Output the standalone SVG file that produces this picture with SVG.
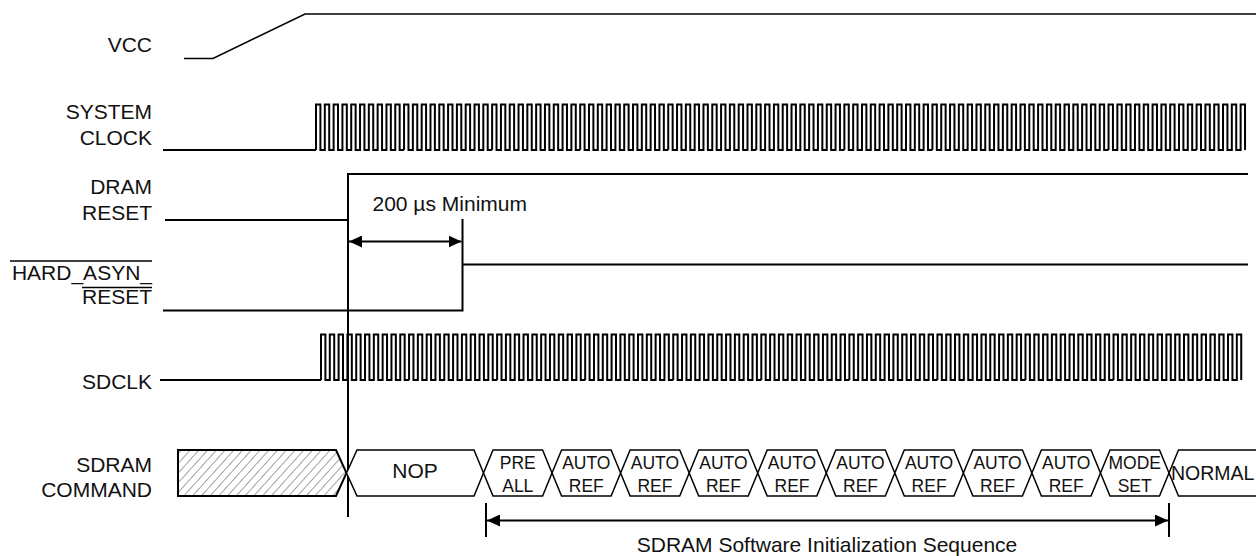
<svg xmlns="http://www.w3.org/2000/svg" xmlns:xlink="http://www.w3.org/1999/xlink" width="1256" height="556" viewBox="0 0 1256 556">
<style>
.lbl{font-family:"Liberation Sans",Arial,sans-serif;font-size:21px;fill:#111;}
.end{text-anchor:end;}
.mid{text-anchor:middle;}
.cmd{font-family:"Liberation Sans",Arial,sans-serif;font-size:17.5px;fill:#111;text-anchor:middle;}
.w{fill:none;stroke:#000;stroke-width:2;stroke-linejoin:miter;}
.thin{fill:none;stroke:#000;stroke-width:1.5;}
.bus{fill:#fff;stroke:#000;stroke-width:1.5;stroke-linejoin:miter;}
</style>
<defs>
<pattern id="hatch" width="6.5" height="6.5" patternUnits="userSpaceOnUse" patternTransform="rotate(42)">
<line x1="0" y1="0" x2="0" y2="6.5" stroke="#444" stroke-width="1"/>
</pattern>
<marker id="ah" viewBox="0 0 13 12" refX="13" refY="6" markerWidth="13" markerHeight="12" markerUnits="userSpaceOnUse" orient="auto-start-reverse">
<path d="M0,0 L13,6 L0,12 z" fill="#000"/>
</marker>
<path id="c10" class="w" d="M0,0v-45.5h4.403v45.5h4.403v-45.5h4.403v45.5h4.403v-45.5h4.403v45.5h4.403v-45.5h4.403v45.5h4.403v-45.5h4.403v45.5h4.403v-45.5h4.403v45.5h4.403v-45.5h4.403v45.5h4.403v-45.5h4.403v45.5h4.403v-45.5h4.403v45.5h4.403v-45.5h4.403v45.5h4.403"/>
</defs>

<g id="vcc">
<text class="lbl end" x="152" y="52">VCC</text>
<path class="thin" d="M184,58.5 H213 L305,14 H1256"/>
</g>

<g id="system-clock">
<text class="lbl end" x="152" y="118.5">SYSTEM</text>
<text class="lbl end" x="152" y="145">CLOCK</text>
<path class="w" d="M163,150 H316"/>
<use xlink:href="#c10" x="316" y="150"/>
<use xlink:href="#c10" x="404.06" y="150"/>
<use xlink:href="#c10" x="492.12" y="150"/>
<use xlink:href="#c10" x="580.18" y="150"/>
<use xlink:href="#c10" x="668.24" y="150"/>
<use xlink:href="#c10" x="756.3" y="150"/>
<use xlink:href="#c10" x="844.36" y="150"/>
<use xlink:href="#c10" x="932.42" y="150"/>
<use xlink:href="#c10" x="1020.48" y="150"/>
<use xlink:href="#c10" x="1108.54" y="150"/>
<path class="w" d="M1196.6,150v-45.5h4.403v45.5h4.403v-45.5h4.403v45.5h4.403v-45.5h4.403v45.5h4.403v-45.5h4.403v45.5h4.403v-45.5h4.403v45.5h4.403v-45.5h4.403v45.5"/>
</g>

<g id="dram-reset">
<text class="lbl end" x="152" y="193.5">DRAM</text>
<text class="lbl end" x="152" y="220">RESET</text>
<path class="w" d="M165,220 H348 V174 H1248"/>
<path class="w" d="M348,220 V517"/>
</g>

<g id="hard-asyn-reset">
<text class="lbl end" x="152" y="280">HARD_ASYN_</text>
<text class="lbl end" x="152" y="304">RESET</text>
<path class="thin" d="M10,261 H152 M82,287.5 H152"/>
<path class="w" d="M163,310.5 H462.5 V264.5 H1248 M462.5,264.5 V219"/>
</g>

<g id="sdclk">
<text class="lbl end" x="152" y="388.5">SDCLK</text>
<path class="w" d="M160,380 H321"/>
<use xlink:href="#c10" x="321" y="380"/>
<use xlink:href="#c10" x="409.06" y="380"/>
<use xlink:href="#c10" x="497.12" y="380"/>
<use xlink:href="#c10" x="585.18" y="380"/>
<use xlink:href="#c10" x="673.24" y="380"/>
<use xlink:href="#c10" x="761.3" y="380"/>
<use xlink:href="#c10" x="849.36" y="380"/>
<use xlink:href="#c10" x="937.42" y="380"/>
<use xlink:href="#c10" x="1025.48" y="380"/>
<use xlink:href="#c10" x="1113.54" y="380"/>
<path class="w" d="M1201.6,380v-45.5h4.403v45.5h4.403v-45.5h4.403v45.5h4.403v-45.5h4.403v45.5h4.403v-45.5h4.403v45.5h4.403v-45.5h4.403v45.5"/>
</g>

<g id="sdram-command">
<text class="lbl end" x="152" y="472">SDRAM</text>
<text class="lbl end" x="152" y="497">COMMAND</text>
<polygon points="178,450 336,450 346.5,473 336,496 178,496" fill="url(#hatch)" stroke="#000" stroke-width="2"/>
<polygon class="bus" points="346.5,473 357,450 474,450 483.5,473 474,496 357,496"/>
<text class="lbl mid" x="415" y="478">NOP</text>
<polygon class="bus" points="483.5,473 493,450 542.6,450 552,473 542.6,496 493,496"/>
<polygon class="bus" points="552,473 561.6,450 611.1,450 620.6,473 611.1,496 561.6,496"/>
<polygon class="bus" points="620.6,473 630.1,450 679.7,450 689.2,473 679.7,496 630.1,496"/>
<polygon class="bus" points="689.2,473 698.7,450 748.2,450 757.7,473 748.2,496 698.7,496"/>
<polygon class="bus" points="757.7,473 767.2,450 816.8,450 826.3,473 816.8,496 767.2,496"/>
<polygon class="bus" points="826.3,473 835.8,450 885.3,450 894.8,473 885.3,496 835.8,496"/>
<polygon class="bus" points="894.8,473 904.3,450 953.9,450 963.4,473 953.9,496 904.3,496"/>
<polygon class="bus" points="963.4,473 972.9,450 1022.4,450 1031.9,473 1022.4,496 972.9,496"/>
<polygon class="bus" points="1031.9,473 1041.4,450 1091,450 1100.5,473 1091,496 1041.4,496"/>
<polygon class="bus" points="1100.5,473 1110,450 1159.5,450 1169,473 1159.5,496 1110,496"/>
<polyline class="bus" fill="none" points="1256,450 1178.5,450 1169,473 1178.5,496 1256,496"/>
<text class="cmd" x="517.8" y="469">PRE</text><text class="cmd" x="517.8" y="491.5">ALL</text>
<text class="cmd" x="586.3" y="469">AUTO</text><text class="cmd" x="586.3" y="491.5">REF</text>
<text class="cmd" x="654.9" y="469">AUTO</text><text class="cmd" x="654.9" y="491.5">REF</text>
<text class="cmd" x="723.4" y="469">AUTO</text><text class="cmd" x="723.4" y="491.5">REF</text>
<text class="cmd" x="792" y="469">AUTO</text><text class="cmd" x="792" y="491.5">REF</text>
<text class="cmd" x="860.5" y="469">AUTO</text><text class="cmd" x="860.5" y="491.5">REF</text>
<text class="cmd" x="929.1" y="469">AUTO</text><text class="cmd" x="929.1" y="491.5">REF</text>
<text class="cmd" x="997.6" y="469">AUTO</text><text class="cmd" x="997.6" y="491.5">REF</text>
<text class="cmd" x="1066.2" y="469">AUTO</text><text class="cmd" x="1066.2" y="491.5">REF</text>
<text class="cmd" x="1134.7" y="469">MODE</text><text class="cmd" x="1134.7" y="491.5">SET</text>
<text class="lbl" x="1171" y="479.5" style="font-size:19.5px">NORMAL</text>
</g>

<g id="connectors">
<line class="w" x1="349" y1="241.5" x2="461.5" y2="241.5" marker-start="url(#ah)" marker-end="url(#ah)"/>
<text class="lbl" x="372.5" y="210.5">200 µs Minimum</text>
<path class="w" d="M486,503 V537 M1169,503 V537"/>
<line class="w" x1="487" y1="520.5" x2="1168" y2="520.5" marker-start="url(#ah)" marker-end="url(#ah)"/>
<text class="lbl mid" x="827" y="552">SDRAM Software Initialization Sequence</text>
</g>
</svg>
